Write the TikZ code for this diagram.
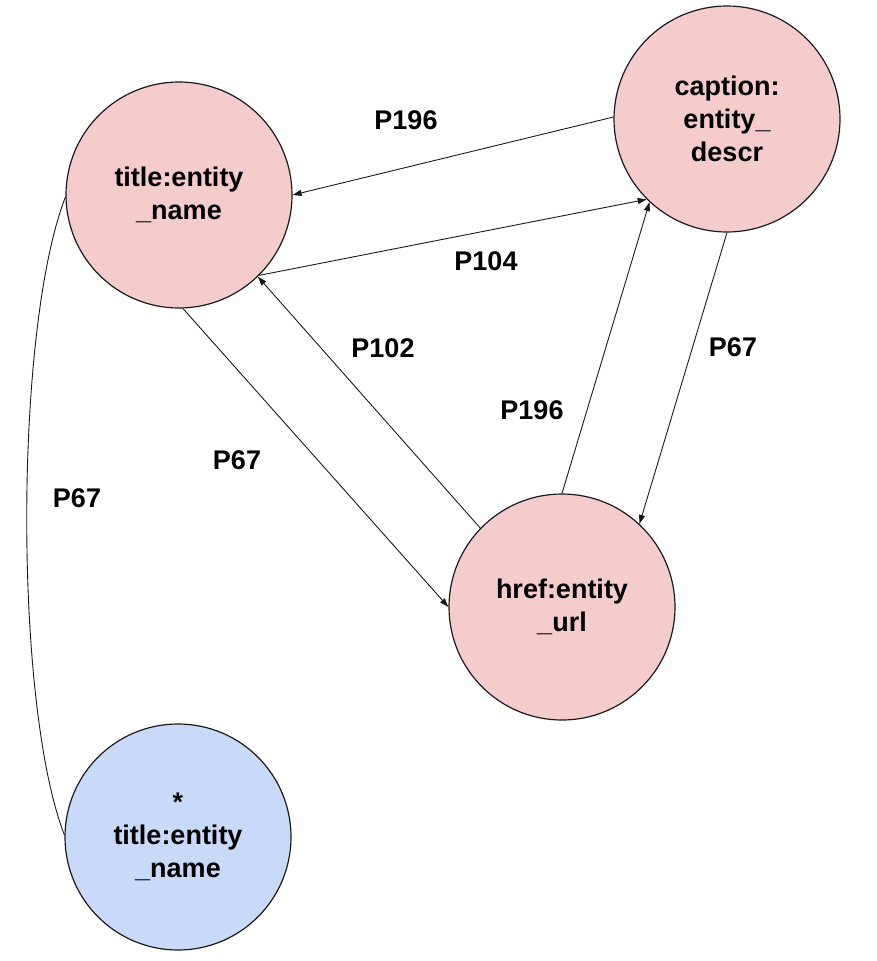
\documentclass[tikz,border=0pt]{standalone}
\usepackage{fontspec}
\setmainfont{Liberation Sans}
\usetikzlibrary{arrows.meta}
\definecolor{pinkfill}{HTML}{F4CCCC}
\definecolor{bluefill}{HTML}{C9DAF8}
\definecolor{edgecol}{HTML}{1A1A1A}
\begin{document}
\begin{tikzpicture}[x=1pt,y=-1pt,
  ent/.style={circle, draw=edgecol, line width=1.2pt, minimum size=226pt, inner sep=0pt,
    align=center, font=\fontsize{27}{33}\selectfont\bfseries},
  pinknode/.style={ent, fill=pinkfill},
  bluenode/.style={ent, fill=bluefill},
  rel/.style={draw=edgecol, line width=0.9pt, -{Triangle[length=9pt,width=6pt]}},
  plainrel/.style={draw=edgecol, line width=0.9pt},
  lbl/.style={font=\fontsize{27}{33}\selectfont\bfseries, inner sep=0pt}]
\useasboundingbox (0,0) rectangle (877,961);
\node[pinknode] (title) at (179,195) {title:entity\\\_name};
\node[pinknode] (caption) at (727,119) {caption:\\entity\_\\descr};
\node[pinknode] (href) at (562,607) {href:entity\\\_url};
\node[bluenode] (star) at (178,837) {*\\title:entity\\\_name};

\draw[rel] (caption.179) -- (title.0);
\draw[rel] (title.-45) -- (caption.225);
\draw[rel] (href.136) -- (title.-46);
\draw[rel] (title.-88) -- (href.180);
\draw[rel] (href.90) -- (caption.227);
\draw[rel] (caption.270) -- (href.47);
\draw[plainrel] (title.181) .. controls (14,330) and (14,705) .. (star.179);

\node[lbl] (l1) at (406,120) {P196};
\node[lbl] (l2) at (486,261) {P104};
\node[lbl] (l3) at (383,348) {P102};
\node[lbl] (l4) at (733,347) {P67};
\node[lbl] (l5) at (532,410) {P196};
\node[lbl] (l6) at (237,460) {P67};
\node[lbl] (l7) at (77,498) {P67};
\end{tikzpicture}
\end{document}
